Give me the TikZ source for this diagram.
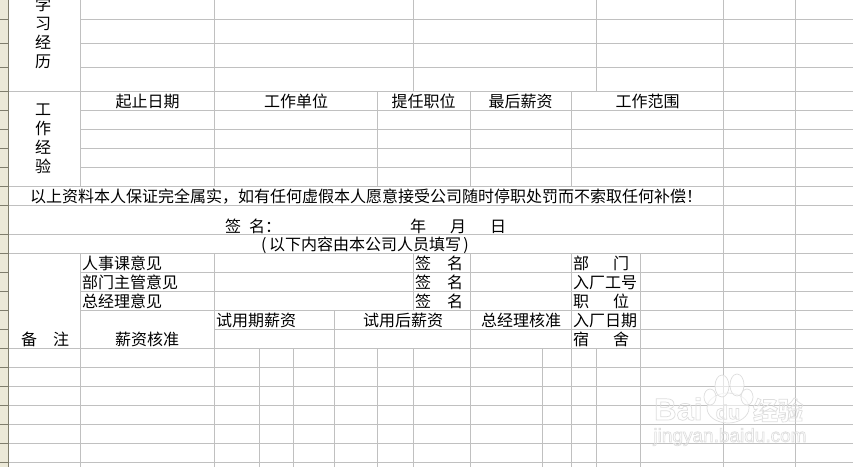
\documentclass[tikz,border=0pt]{standalone}
\usepackage{fontspec}
\setmainfont{Noto Sans CJK SC}
\newfontfamily\latinbold{Liberation Sans}
\newfontfamily\markbold{Noto Sans CJK SC}
\definecolor{gridgrey}{HTML}{C0C0C0}
\definecolor{headbeige}{HTML}{ECE9D8}
\definecolor{headdark}{HTML}{7F7D6C}
\definecolor{markgrey}{HTML}{DEDEDE}
\newcommand{\marktext}[1]{\special{pdf:code 1 Tr 0.7 w 0.87 0.87 0.87 RG}#1\special{pdf:code 0 Tr 0 0 0 RG}}
\tikzstyle{grid} = [gridgrey, line width=1pt]
\tikzstyle{head} = [headdark, line width=1pt]
\tikzstyle{lbl} = [inner sep=0pt, anchor=west, font=\fontsize{16}{19}\selectfont]
\tikzstyle{mid} = [inner sep=0pt, align=center, font=\fontsize{16}{19}\selectfont]
\tikzstyle{paw} = [draw=markgrey, line width=0.7pt, fill=white, fill opacity=0.6]

\begin{document}
\begin{tikzpicture}[x=1pt,y=-1pt]
\clip (0,0) rectangle (853,467);
\fill[white] (0,0) rectangle (853,467);
\fill[headbeige] (0,0) rectangle (8,467);
\foreach \y in {19.5,43.5,67.5,91.5,110.5,129.5,148.5,167.5,186.5,205.5,234.5,253.5,272.5,291.5,310.5,329.5,348.5,367.5,386.5,405.5,424.5,443.5,462.5}
    \draw[head] (0,\y) -- (8,\y);
\draw[head] (8.5,0) -- (8.5,467);

\foreach \y in {19.5,43.5,67.5,110.5,129.5,148.5,167.5,272.5,291.5,310.5}
    \draw[grid] (81,\y) -- (853,\y);
\foreach \y in {91.5,186.5,205.5,234.5,253.5,348.5,367.5,386.5,405.5,424.5,443.5,462.5}
    \draw[grid] (9,\y) -- (853,\y);
\draw[grid] (214,329.5) -- (853,329.5);

\foreach \x in {723.5,795.5}
    \draw[grid] (\x,0) -- (\x,467);
\foreach \x in {80.5,214.5,413.5,596.5}
    \draw[grid] (\x,0) -- (\x,91);
\foreach \x in {80.5,214.5,377.5,470.5,571.5}
    \draw[grid] (\x,91) -- (\x,186);
\foreach \x in {80.5,214.5,413.5,470.5,571.5,640.5}
    \draw[grid] (\x,253) -- (\x,311);
\foreach \x in {80.5,214.5,334.5,470.5,571.5,640.5}
    \draw[grid] (\x,310) -- (\x,349);
\foreach \x in {80.5,214.5,259.5,293.5,334.5,377.5,413.5,470.5,542.5,571.5,596.5,640.5}
    \draw[grid] (\x,348) -- (\x,467);

\node[mid] (study) at (43,32.5) {学\\习\\经\\历};
\node[mid] (work) at (43,139) {工\\作\\经\\验};
\node[mid] (period) at (147.5,101.5) {起止日期};
\node[mid] (company) at (296,101.5) {工作单位};
\node[mid] (post) at (423.5,101.5) {提任职位};
\node[mid] (salary) at (520.5,101.5) {最后薪资};
\node[mid] (scope) at (647.5,101.5) {工作范围};
\node[lbl] (pledge) at (30,197) {以上资料本人保证完全属实，如有任何虚假本人愿意接受公司随时停职处罚而不索取任何补偿！};
\node[lbl] (sign) at (225,226.5) {签\hspace{8pt}名：};
\node[lbl] (date) at (410,226) {年\hspace{24pt}月\hspace{24pt}日};
\node[mid] (below) at (365,245.5) {(\hspace{2.5pt}以下内容由本公司人员填写\hspace{2.5pt})};

\node[lbl] (hr) at (82,263.5) {人事课意见};
\node[lbl] (dept) at (82,282.5) {部门主管意见};
\node[lbl] (gm) at (82,301.5) {总经理意见};
\node[lbl] (signa) at (415,263.5) {签\hspace{16pt}名};
\node[lbl] (signb) at (415,282.5) {签\hspace{16pt}名};
\node[lbl] (signc) at (415,301.5) {签\hspace{16pt}名};
\node[lbl] (bumen) at (573,263.5) {部\hspace{24pt}门};
\node[lbl] (jobno) at (573,282.5) {入厂工号};
\node[lbl] (zhiwei) at (573,301.5) {职\hspace{24pt}位};
\node[lbl] (joindate) at (573,320.5) {入厂日期};
\node[lbl] (dorm) at (573,339.5) {宿\hspace{24pt}舍};
\node[lbl] (trial) at (216,320.5) {试用期薪资};
\node[lbl] (after) at (363,320.5) {试用后薪资};
\node[lbl] (approve) at (481,320.5) {总经理核准};
\node[lbl] (remark) at (21,339.5) {备\hspace{16pt}注};
\node[lbl] (check) at (115,339.5) {薪资核准};

\draw[paw] (728,408) ellipse (21 and 15);
\draw[paw] (722,386) ellipse (7 and 11);
\draw[paw] (737,385) ellipse (7 and 11);
\draw[paw] (710,397) ellipse (6 and 8);
\draw[paw] (747,397) ellipse (6 and 8);
\node[inner sep=0pt, anchor=west, font=\fontsize{31}{31}\latinbold\bfseries] (markbai) at (654,409) {\marktext{Bai}};
\node[inner sep=0pt, font=\fontsize{20}{20}\latinbold\bfseries] (markdu) at (728,412) {\marktext{du}};
\node[inner sep=0pt, font=\fontsize{25}{25}\markbold\bfseries] (markjy) at (778,410) {\marktext{经验}};
\node[inner sep=0pt, font=\fontsize{19}{19}\latinbold] (markurl) at (730,437) {\marktext{jingyan.baidu.com}};
\end{tikzpicture}
\end{document}
